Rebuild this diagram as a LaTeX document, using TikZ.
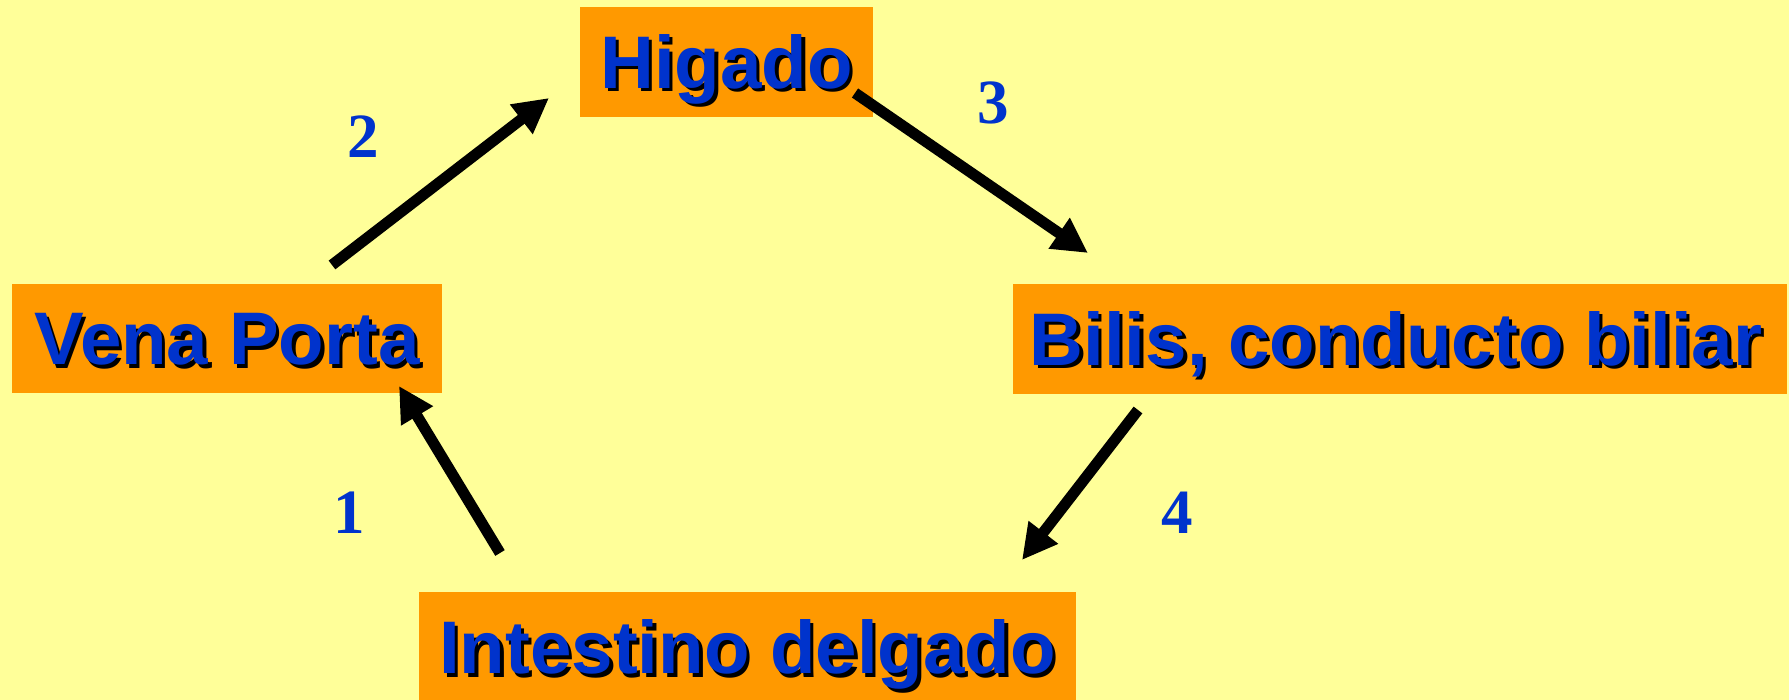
\documentclass[tikz,border=0pt]{standalone}
\usepackage{fontspec}
\setmainfont{Liberation Serif}
\newfontfamily\arialf{Liberation Sans}
\usetikzlibrary{arrows.meta}
\definecolor{bgyellow}{HTML}{FFFF99}
\definecolor{boxorange}{HTML}{FF9900}
\definecolor{txtblue}{HTML}{0033CC}
\newcommand\shadtxt[1]{\makebox[0pt][l]{\hspace*{3.5pt}\raisebox{-3.5pt}{\color{black}#1}}{\color{txtblue}#1}}
\tikzset{
  orgbox/.style={fill=boxorange, draw=none, inner sep=0pt},
  lbl/.style={inner sep=0pt, anchor=base, font=\arialf\bfseries\fontsize{74.5}{80}\selectfont},
  num/.style={inner sep=0pt, anchor=base, text=txtblue, font=\bfseries\fontsize{63}{70}\selectfont},
  flow/.style={line width=11pt, -{Triangle[length=35pt,width=35pt]}}
}
\begin{document}
\begin{tikzpicture}[x=1pt,y=-1pt]
\fill[bgyellow] (0,0) rectangle (1789,700);
\useasboundingbox (0,0) rectangle (1789,700);
% boxes
\node[orgbox, minimum width=293pt, minimum height=110pt] (hig) at (726.5,62) {};
\node[orgbox, minimum width=430pt, minimum height=109pt] (vena) at (227,338.5) {};
\node[orgbox, minimum width=774pt, minimum height=110pt] (bilis) at (1400,339) {};
\node[orgbox, minimum width=657pt, minimum height=110pt] (intes) at (747.5,647) {};
% labels
\node[lbl] (higT) at ([yshift=-26.5pt]hig.center) {\shadtxt{Higado}};
\node[lbl] (venaT) at ([yshift=-26.5pt]vena.center) {\shadtxt{Vena Porta}};
\node[lbl] (bilisT) at ([xshift=-4pt,yshift=-26.5pt]bilis.center) {\shadtxt{Bilis, conducto biliar}};
\node[lbl] (intesT) at ([yshift=-26.5pt]intes.center) {\shadtxt{Intestino delgado}};
% numbers
\node[num] (n1) at (349,533) {1};
\node[num] (n2) at (363,158) {2};
\node[num] (n3) at (993,124) {3};
\node[num] (n4) at (1177,533) {4};
% arrow end points
\coordinate (a1s) at (500,553);
\coordinate (a1e) at (399,386);
\coordinate (a2s) at (332,265);
\coordinate (a2e) at (549,98);
\coordinate (a3s) at (855,93);
\coordinate (a3e) at (1088,253);
\coordinate (a4s) at (1138,410);
\coordinate (a4e) at (1022,560);
\draw[flow] (a1s) -- (a1e);
\draw[flow] (a2s) -- (a2e);
\draw[flow] (a3s) -- (a3e);
\draw[flow] (a4s) -- (a4e);
\end{tikzpicture}
\end{document}
